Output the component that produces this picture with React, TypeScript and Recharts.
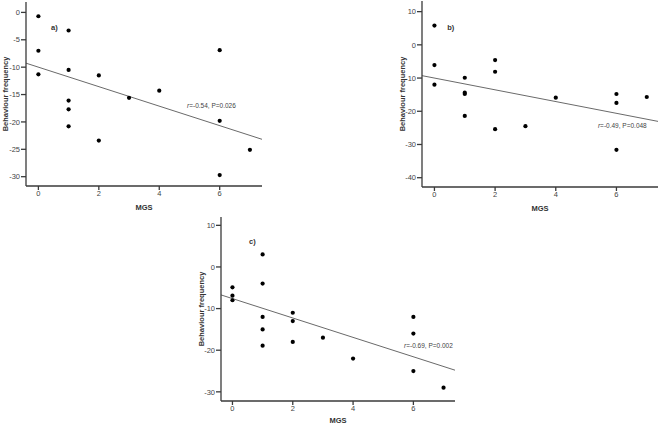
import { ScatterChart, Scatter, XAxis, YAxis, ReferenceLine, ReferenceDot } from "recharts";

// MGS score (x) and behaviour frequency change (y) per animal
const mgsA = [0, 0, 0, 1, 1, 1, 1, 1, 2, 2, 3, 4, 6, 6, 6, 7];
const behaviourA = [-0.7, -7, -11.3, -3.3, -10.5, -16.1, -17.7, -20.8, -11.5, -23.4, -15.6, -14.3, -6.9, -19.8, -29.7, -25.1];

const mgsB = [0, 0, 0, 1, 1, 1, 1, 2, 2, 2, 3, 4, 6, 6, 6, 7];
const behaviourB = [5.8, -6.1, -12, -9.9, -14.4, -14.8, -21.4, -4.6, -8.1, -25.4, -24.5, -15.9, -14.8, -17.5, -31.6, -15.7];

const mgsC = [0, 0, 0, 1, 1, 1, 1, 1, 2, 2, 2, 3, 4, 6, 6, 6, 7];
const behaviourC = [-4.9, -6.9, -8, 3, -4, -12, -15, -18.9, -11, -13, -18, -17, -22, -12, -16, -25, -29];

// fitted line [intercept, slope]
const fitA = [-10.0, -1.78];
const fitB = [-10.0, -1.77];
const fitC = [-7.6, -2.33];

const statA = "=-0.54, P=0.026";
const statB = "=-0.49, P=0.048";
const statC = "=-0.69, P=0.002";

const xTicks = [0, 2, 4, 6];
const yTicksA = [0, -5, -10, -15, -20, -25, -30];
const yTicksB = [10, 0, -10, -20, -30, -40];
const yTicksC = [10, 0, -10, -20, -30];

const FONT = "'Liberation Sans', Arial, sans-serif";
const AXIS = "#3a3a3a";

const Dot = (p: any) => <circle cx={p.cx} cy={p.cy} r={2.1} fill="#000" />;

type PanelProps = {
  left: number;
  top: number;
  width: number;
  height: number;
  margin: { top: number; right: number; bottom: number; left: number };
  yAxisWidth: number;
  xAxisHeight: number;
  yLabelOffset: number;
  xDomain: [number, number];
  yDomain: [number, number];
  yTicks: number[];
  xs: number[];
  ys: number[];
  fit: number[];
  tag: string;
  tagAt: [number, number];
  stat: string;
  statAt: [number, number];
};

function Panel(p: PanelProps) {
  const data = p.xs.map((x, i) => ({ x, y: p.ys[i] }));
  const [x0, x1] = p.xDomain;
  const [b, m] = p.fit;
  return (
    <div style={{ position: "absolute", left: p.left, top: p.top }}>
      <ScatterChart width={p.width} height={p.height} margin={p.margin}>
        <XAxis
          type="number"
          dataKey="x"
          domain={p.xDomain}
          ticks={xTicks}
          allowDataOverflow
          height={p.xAxisHeight}
          stroke={AXIS}
          strokeWidth={1.3}
          tickSize={4}
          tickMargin={1}
          tick={{ fontSize: 7.5, fill: "#444", fontFamily: FONT }}
          label={{
            value: "MGS",
            position: "insideBottom",
            offset: 2,
            style: { fontSize: 7.5, fontWeight: "bold", fill: "#333", fontFamily: FONT },
          }}
        />
        <YAxis
          type="number"
          dataKey="y"
          domain={p.yDomain}
          ticks={p.yTicks}
          allowDataOverflow
          width={p.yAxisWidth}
          stroke={AXIS}
          strokeWidth={1.3}
          tickSize={5}
          tickMargin={1}
          tick={{ fontSize: 7.5, fill: "#444", fontFamily: FONT }}
          label={{
            value: "Behaviour frequency",
            angle: -90,
            position: "insideLeft",
            offset: p.yLabelOffset,
            style: { textAnchor: "middle", fontSize: 7.5, fontWeight: "bold", fill: "#333", fontFamily: FONT },
          }}
        />
        <ReferenceLine
          segment={[
            { x: x0, y: b + m * x0 },
            { x: x1, y: b + m * x1 },
          ]}
          stroke="#6a6a6a"
          strokeWidth={1}
          ifOverflow="visible"
        />
        <Scatter data={data} shape={Dot} isAnimationActive={false} />
        <ReferenceDot
          x={p.tagAt[0]}
          y={p.tagAt[1]}
          r={0}
          stroke="none"
          ifOverflow="visible"
          label={(lp: any) => (
            <text x={lp.viewBox.x} y={lp.viewBox.y} dy="0.35em" fontSize={7.5} fontWeight="bold" fill="#333" fontFamily={FONT}>
              {p.tag}
            </text>
          )}
        />
        <ReferenceDot
          x={p.statAt[0]}
          y={p.statAt[1]}
          r={0}
          stroke="none"
          ifOverflow="visible"
          label={(lp: any) => (
            <text x={lp.viewBox.x} y={lp.viewBox.y} dy="0.35em" fontSize={6.5} fill="#444" fontFamily={FONT}>
              <tspan fontStyle="italic">r</tspan>
              {p.stat}
            </text>
          )}
        />
      </ScatterChart>
    </div>
  );
}

export default function App() {
  return (
    <div style={{ position: "absolute", left: 0, top: 0, width: 661, height: 426, background: "#fff", overflow: "hidden" }}>
      <Panel
        left={0}
        top={0}
        width={270}
        height={212}
        margin={{ top: 2, right: 8, bottom: 0, left: 0 }}
        yAxisWidth={26}
        xAxisHeight={26}
        yLabelOffset={5}
        xDomain={[-0.41, 7.4]}
        yDomain={[-31.7, 1.9]}
        yTicks={yTicksA}
        xs={mgsA}
        ys={behaviourA}
        fit={fitA}
        tag="a)"
        tagAt={[0.42, -2.7]}
        stat={statA}
        statAt={[4.92, -17.1]}
      />
      <Panel
        left={380}
        top={0}
        width={280}
        height={213}
        margin={{ top: 1, right: 2, bottom: 0, left: 0 }}
        yAxisWidth={42}
        xAxisHeight={26}
        yLabelOffset={22}
        xDomain={[-0.41, 7.37]}
        yDomain={[-42.8, 13.2]}
        yTicks={yTicksB}
        xs={mgsB}
        ys={behaviourB}
        fit={fitB}
        tag="b)"
        tagAt={[0.42, 5.4]}
        stat={statB}
        statAt={[5.39, -24.4]}
      />
      <Panel
        left={180}
        top={210}
        width={280}
        height={215}
        margin={{ top: 7, right: 5, bottom: 0, left: 0 }}
        yAxisWidth={41}
        xAxisHeight={24}
        yLabelOffset={21}
        xDomain={[-0.38, 7.38]}
        yDomain={[-32.2, 12.0]}
        yTicks={yTicksC}
        xs={mgsC}
        ys={behaviourC}
        fit={fitC}
        tag="c)"
        tagAt={[0.55, 6.1]}
        stat={statC}
        statAt={[5.69, -19.0]}
      />
    </div>
  );
}
